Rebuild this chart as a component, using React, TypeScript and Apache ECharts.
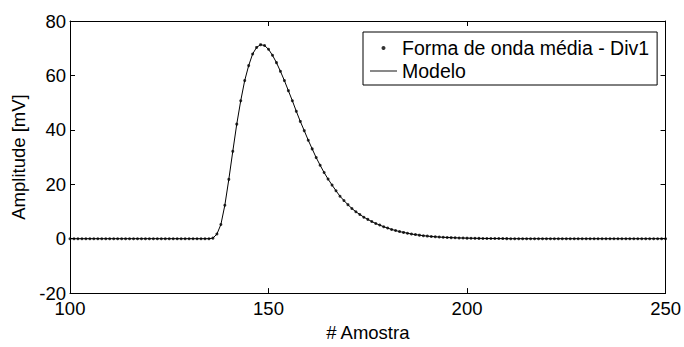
import React, { useEffect, useRef } from "react";
import * as echarts from "echarts";

const primeiraAmostra = 100;
const xTicks = [100, 150, 200, 250];
const yTicks = [-20, 0, 20, 40, 60, 80];

// amplitude [mV] for each sample 100..250
const formaDeOnda = [
  0, 0, 0, 0, 0, 0, 0, 0, 0, 0, 0, 0, 0, 0, 0, 0, 0, 0, 0, 0,
  0, 0, 0, 0, 0, 0, 0, 0, 0, 0, 0, 0, 0, 0, 0, 0,
  0.2, 1.7, 5.2, 12.3, 21.8, 32.1, 42.1, 50.7, 58.1, 63.6,
  67.9, 70.3, 71.3, 71.0, 69.6, 67.4, 64.7, 61.5, 58.1, 54.4,
  50.7, 46.8, 43.1, 39.7, 36.2, 33.0, 29.8, 27.0, 24.3, 21.9,
  19.7, 17.6, 15.6, 14.0, 12.5, 11.1, 9.9, 8.9, 7.9, 7.1,
  6.3, 5.6, 5.0, 4.4, 3.9, 3.4, 3.0, 2.6, 2.3, 2.0,
  1.7, 1.5, 1.3, 1.1, 0.95, 0.8, 0.7, 0.6, 0.5, 0.45,
  0.38, 0.32, 0.27, 0.23, 0.19, 0.16, 0.13, 0.11, 0.09, 0.07,
  0.06, 0.05, 0.04, 0.03, 0.02,
  0, 0, 0, 0, 0, 0, 0, 0, 0, 0, 0, 0, 0, 0, 0, 0, 0, 0, 0, 0,
  0, 0, 0, 0, 0, 0, 0, 0, 0, 0, 0, 0, 0, 0, 0, 0, 0, 0, 0, 0,
];
const modelo = formaDeOnda;

const nomeDados = "Forma de onda média - Div1";
const nomeModelo = "Modelo";

const FONT = "Liberation Sans, Arial, Helvetica, sans-serif";

export default function App() {
  const ref = useRef<HTMLDivElement>(null);
  useEffect(() => {
    if (!ref.current) return;
    const chart = echarts.init(ref.current, undefined, { renderer: "svg" });
    const pts = formaDeOnda.map((v, i) => [primeiraAmostra + i, v]);
    const mod = modelo.map((v, i) => [primeiraAmostra + i, v]);
    const axisLine = { show: true, onZero: false, lineStyle: { color: "#000", width: 1 } };
    const tick = { show: true, inside: true, length: 5, lineStyle: { color: "#000", width: 1 } };
    chart.setOption({
      animation: false,
      backgroundColor: "#fff",
      textStyle: { fontFamily: FONT },
      grid: { left: 70, right: 18, top: 21, bottom: 43, containLabel: false },
      legend: {
        left: 363,
        top: 32,
        orient: "vertical",
        backgroundColor: "#fff",
        borderColor: "#000",
        borderWidth: 1,
        borderRadius: 0,
        padding: [6, 8, 4, 7],
        itemGap: 3,
        itemWidth: 27,
        itemHeight: 4,
        symbolKeepAspect: true,
        textStyle: { fontFamily: FONT, fontSize: 19.5, color: "#000", lineHeight: 20 },
        data: [
          { name: nomeDados, icon: "circle", itemStyle: { color: "#000" } },
          { name: nomeModelo, icon: "path://M0 0H29V1H0Z", itemStyle: { color: "#000" } },
        ],
      },
      xAxis: [
        {
          type: "value",
          min: 100,
          max: 250,
          interval: 50,
          position: "bottom",
          name: "# Amostra",
          nameLocation: "middle",
          nameGap: 25,
          nameTextStyle: { fontFamily: FONT, fontSize: 18.5, color: "#000" },
          axisLine,
          axisTick: tick,
          axisLabel: {
            fontFamily: FONT,
            fontSize: 18.5,
            color: "#000",
            margin: 6,
            customValues: xTicks,
          },
          splitLine: { show: false },
        },
        {
          type: "value",
          min: 100,
          max: 250,
          interval: 50,
          position: "top",
          axisLine,
          axisTick: tick,
          axisLabel: { show: false },
          splitLine: { show: false },
        },
      ],
      yAxis: [
        {
          type: "value",
          min: -20,
          max: 80,
          interval: 20,
          position: "left",
          name: "Amplitude [mV]",
          nameLocation: "middle",
          nameGap: 40,
          nameRotate: 90,
          nameTextStyle: { fontFamily: FONT, fontSize: 18.5, color: "#000" },
          axisLine,
          axisTick: tick,
          axisLabel: { fontFamily: FONT, fontSize: 18.5, color: "#000", margin: 4, customValues: yTicks },
          splitLine: { show: false },
        },
        {
          type: "value",
          min: -20,
          max: 80,
          interval: 20,
          position: "right",
          axisLine,
          axisTick: tick,
          axisLabel: { show: false },
          splitLine: { show: false },
        },
      ],
      series: [
        {
          name: nomeModelo,
          type: "line",
          data: mod,
          showSymbol: false,
          symbol: "none",
          lineStyle: { color: "#000", width: 1 },
          itemStyle: { color: "#000" },
          z: 2,
        },
        {
          name: nomeDados,
          type: "scatter",
          data: pts,
          symbol: "circle",
          symbolSize: 3,
          itemStyle: { color: "#000" },
          z: 3,
        },
      ],
    });
    return () => chart.dispose();
  }, []);
  return (
    <div
      ref={ref}
      style={{ position: "fixed", left: 0, top: 0, width: 684, height: 347 }}
    />
  );
}
